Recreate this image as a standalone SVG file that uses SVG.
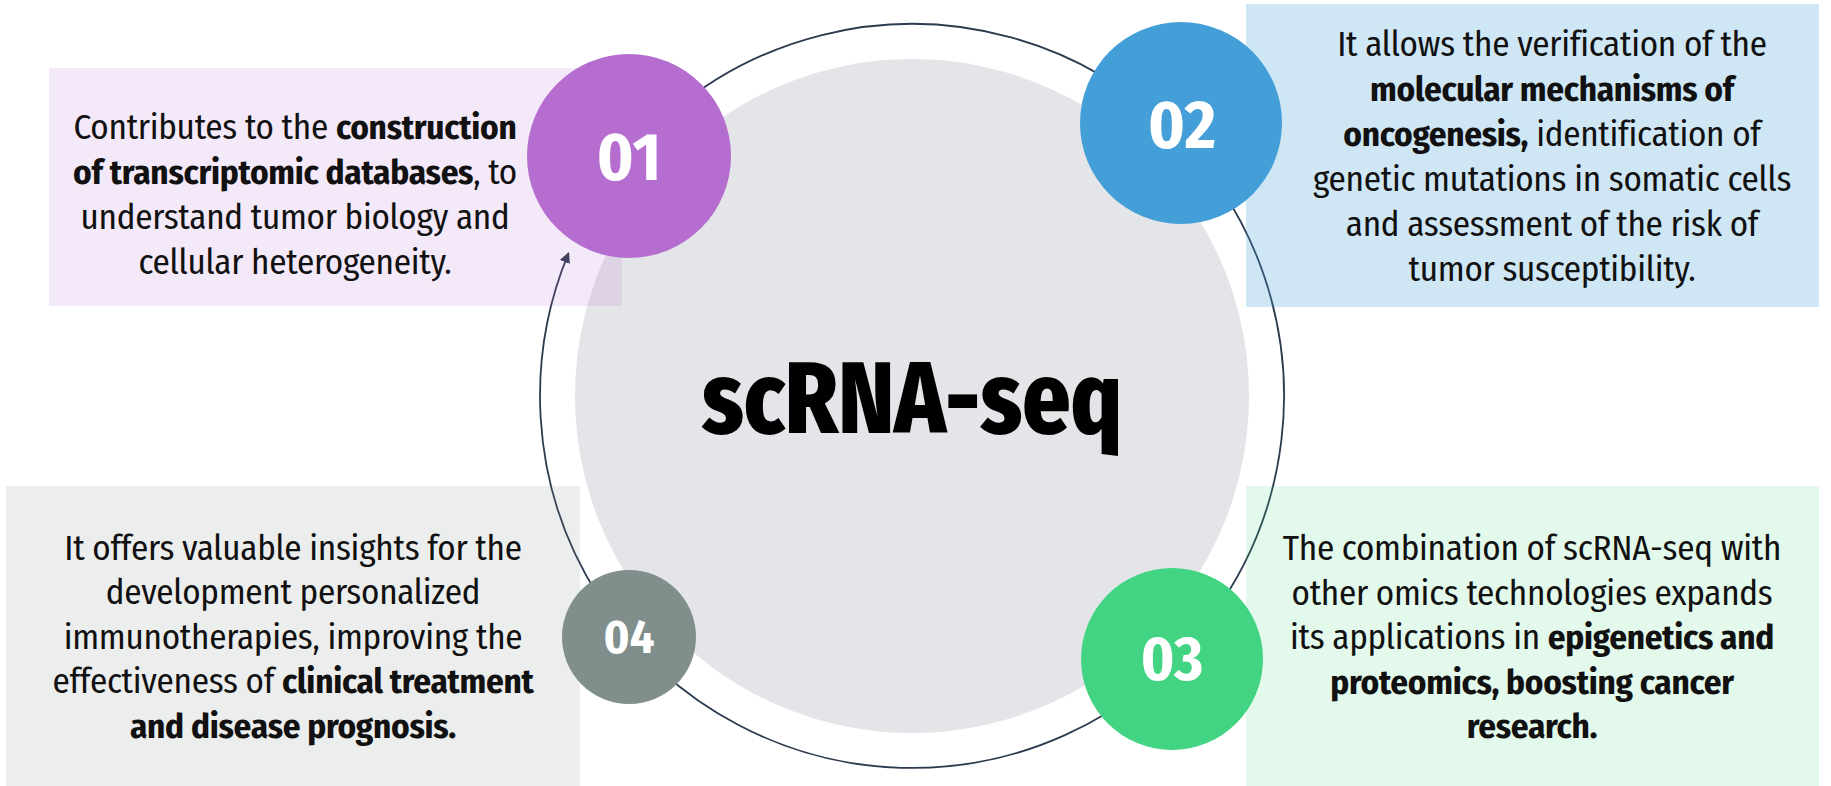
<svg xmlns="http://www.w3.org/2000/svg" width="1831" height="786" viewBox="0 0 1831 786">
<defs>
<style>
.body{font-family:"Fira Sans Condensed","Liberation Sans Narrow","DejaVu Sans Condensed",sans-serif;font-size:35px;letter-spacing:-0.28px;fill:#111;text-anchor:middle}
.b{font-weight:bold}
.num{font-family:"Fira Sans Condensed","Liberation Sans Narrow","DejaVu Sans Condensed",sans-serif;font-weight:bold;fill:#fff;text-anchor:middle}
.title{font-family:"Fira Sans Condensed","Liberation Sans Narrow","DejaVu Sans Condensed",sans-serif;font-weight:800;font-size:102px;fill:#000;text-anchor:middle}
.conn{fill:none;stroke:#2b3a4e;stroke-width:1.8}
</style>
<marker id="arrow" viewBox="0 0 10 10" refX="9" refY="5" markerWidth="6" markerHeight="6" markerUnits="strokeWidth" orient="auto">
<path d="M0,0 L10,5 L0,10 z" fill="#2b3a4e"/>
</marker>
</defs>
<rect width="1831" height="786" fill="#fff"/>

<g id="center">
<circle cx="912" cy="396" r="337" fill="#e4e5e9"/>
<text class="title" x="912" y="433" textLength="420" lengthAdjust="spacingAndGlyphs">scRNA-seq</text>
</g>

<g id="connectors">
<path class="conn" d="M672.9,111 A372,372 0 1 1 568.6,253" marker-end="url(#arrow)"/>
</g>

<g id="item01">
<rect x="49" y="68" width="573" height="238" fill="#b56ccf" fill-opacity="0.15"/>
<circle cx="629" cy="156" r="102" fill="#b56ecf"/>
<text class="num" x="629" y="180" font-size="68">01</text>
<text class="body" x="295" y="139">Contributes to the <tspan class="b">construction</tspan></text>
<text class="body" x="295" y="184"><tspan class="b">of transcriptomic databases</tspan>, to</text>
<text class="body" x="295" y="229">understand tumor biology and</text>
<text class="body" x="295" y="274">cellular heterogeneity.</text>
</g>

<g id="item02">
<rect x="1246" y="4" width="573" height="303" fill="#449ed8" fill-opacity="0.26"/>
<circle cx="1181" cy="123" r="101" fill="#449ed8"/>
<text class="num" x="1182" y="148" font-size="68">02</text>
<text class="body" x="1552" y="56">It allows the verification of the</text>
<text class="body b" x="1552" y="101">molecular mechanisms of</text>
<text class="body" x="1552" y="146"><tspan class="b">oncogenesis,</tspan> identification of</text>
<text class="body" x="1552" y="191">genetic mutations in somatic cells</text>
<text class="body" x="1552" y="236">and assessment of the risk of</text>
<text class="body" x="1552" y="281">tumor susceptibility.</text>
</g>

<g id="item03">
<rect x="1246" y="486" width="573" height="300" fill="#42d482" fill-opacity="0.15"/>
<circle cx="1172" cy="659" r="91" fill="#42d482"/>
<text class="num" x="1172" y="680" font-size="62">03</text>
<text class="body" x="1532" y="560">The combination of scRNA-seq with</text>
<text class="body" x="1532" y="604.5">other omics technologies expands</text>
<text class="body" x="1532" y="649">its applications in <tspan class="b">epigenetics and</tspan></text>
<text class="body b" x="1532" y="693.5">proteomics, boosting cancer</text>
<text class="body b" x="1532" y="738">research.</text>
</g>

<g id="item04">
<rect x="6" y="486" width="574" height="300" fill="#808e8c" fill-opacity="0.15"/>
<circle cx="629" cy="637" r="67" fill="#808e8c"/>
<text class="num" x="629" y="653" font-size="48">04</text>
<text class="body" x="293" y="560">It offers valuable insights for the</text>
<text class="body" x="293" y="604">development personalized</text>
<text class="body" x="293" y="649">immunotherapies, improving the</text>
<text class="body" x="293" y="693"><tspan>effectiveness of </tspan><tspan class="b">clinical treatment</tspan></text>
<text class="body b" x="293" y="738">and disease prognosis.</text>
</g>
</svg>
